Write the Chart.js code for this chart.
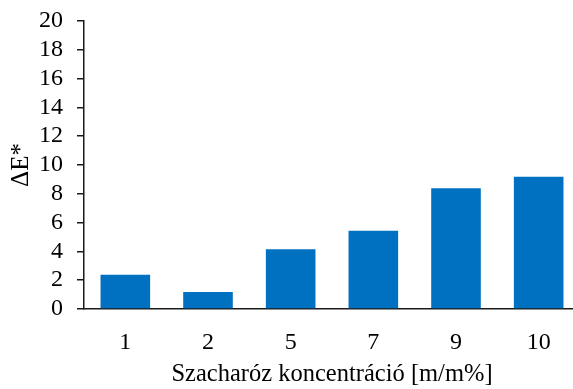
<!DOCTYPE html>
<html>
<head>
<meta charset="utf-8">
<script src="https://cdn.jsdelivr.net/npm/chart.js@4/dist/chart.umd.min.js"></script>
<style>
    html, body { margin: 0; padding: 0; background: #fff; overflow: hidden; }
    #wrap { width: 580px; height: 389px; position: relative; }
</style>
</head>
<body>
<div id="wrap"><canvas id="chart"></canvas></div>
<script>
// Chart data
const categories = ['1', '2', '5', '7', '9', '10'];
const deltaE = [2.37, 1.18, 4.15, 5.44, 8.38, 9.19];

const xTitle = 'Szacharóz koncentráció [m/m%]';
const yTitle = 'ΔE*';

const FONT = "'Liberation Serif', 'Times New Roman', serif";
const AXIS_COLOR = '#1a1a1a';

new Chart(document.getElementById('chart'), {
    type: 'bar',
    data: {
        labels: categories,
        datasets: [{
            label: yTitle,
            data: deltaE,
            backgroundColor: '#0070C0',
            borderWidth: 0,
            categoryPercentage: 1,
            barPercentage: 0.6
        }]
    },
    options: {
        responsive: true,
        maintainAspectRatio: false,
        animation: false,
        layout: {
            padding: { top: 21, right: 0, bottom: 0, left: 0 }
        },
        plugins: {
            legend: { display: false },
            tooltip: { enabled: false }
        },
        scales: {
            x: {
                grid: { display: false, drawTicks: false },
                border: { display: true, color: AXIS_COLOR, width: 1.5 },
                ticks: {
                    color: '#000',
                    font: { family: FONT, size: 24 },
                    padding: 19
                },
                title: {
                    display: true,
                    text: xTitle,
                    color: '#000',
                    font: { family: FONT, size: 24.5 },
                    padding: { top: 6, bottom: 0 }
                },
                afterFit: function(scale) { scale.height = 80; }
            },
            y: {
                min: 0,
                max: 20,
                grid: {
                    drawOnChartArea: false,
                    drawTicks: true,
                    tickLength: 7,
                    color: AXIS_COLOR,
                    lineWidth: 1.5
                },
                border: { display: true, color: AXIS_COLOR, width: 1.5 },
                ticks: {
                    stepSize: 2,
                    autoSkip: false,
                    color: '#000',
                    font: { family: FONT, size: 24, lineHeight: 0.5 },
                    padding: 14
                },
                title: {
                    display: true,
                    text: yTitle,
                    color: '#000',
                    font: { family: FONT, size: 25 },
                    padding: { top: 6, bottom: 0 }
                },
                afterFit: function(scale) { scale.width = 84; }
            }
        }
    }
});
</script>
</body>
</html>
